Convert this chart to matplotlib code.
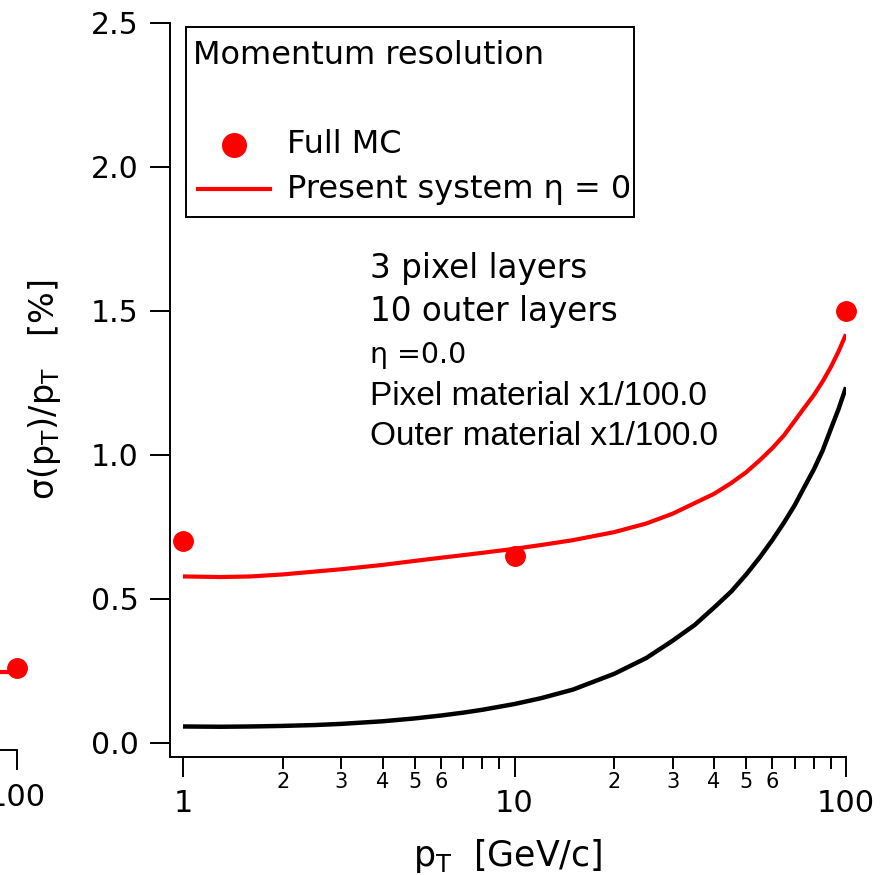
import matplotlib
matplotlib.use("Agg")
import matplotlib.pyplot as plt
from matplotlib.patches import Rectangle
from matplotlib.lines import Line2D

plt.rcParams['font.family'] = ['DejaVu Sans']
plt.rcParams['mathtext.default'] = 'regular'

# Full MC points
pt_mc = [1, 10, 100]
res_mc = [0.70, 0.65, 1.50]

# present system, eta = 0 (red)
pt_red = [1, 1.3, 1.6, 2, 2.5, 3, 4, 5, 6, 7, 8, 10, 12, 15, 20, 25, 30, 35, 40,
          45, 50, 55, 60, 65, 70, 75, 80, 85, 90, 95, 100]
res_red = [0.578, 0.576, 0.578, 0.585, 0.595, 0.603, 0.618, 0.632, 0.643, 0.652,
           0.660, 0.674, 0.687, 0.704, 0.732, 0.762, 0.796, 0.833, 0.865, 0.902,
           0.940, 0.982, 1.024, 1.068, 1.118, 1.165, 1.208, 1.255, 1.305, 1.360, 1.419]

# reduced material (black)
pt_blk = pt_red
res_blk = [0.057, 0.056, 0.057, 0.059, 0.062, 0.066, 0.075, 0.085, 0.095, 0.105,
           0.115, 0.135, 0.155, 0.185, 0.240, 0.295, 0.355, 0.410, 0.470, 0.525,
           0.585, 0.645, 0.705, 0.765, 0.825, 0.890, 0.950, 1.015, 1.090, 1.160, 1.235]

# piece of the neighbouring panel at the left edge
pt_prev = [60, 100]
res_prev = [0.222, 0.222]
pt_prev_mc = [100]
res_prev_mc = [0.236]

major_x = [1, 10, 100]
major_xlabels = ['1', '10', '100']
minor_x = [2, 3, 4, 5, 6, 7, 8, 9, 20, 30, 40, 50, 60, 70, 80, 90]
minor_xlabels = ['2', '3', '4', '5', '6', '', '', '', '2', '3', '4', '5', '6', '', '', '']
y_ticks = [0.0, 0.5, 1.0, 1.5, 2.0, 2.5]

W, H = 888, 875
fig = plt.figure(figsize=(W / 100, H / 100), dpi=100)

def axes_px(left, bottom, width, height):
    return fig.add_axes([left / W, bottom / H, width / W, height / H])

# neighbour fragment
ax0 = axes_px(17 - 676, 125, 676, 734)
ax0.set_facecolor('none')
ax0.set_xscale('log')
ax0.set_xlim(0.9136, 100)
ax0.set_ylim(-0.049, 2.5)
ax0.plot(pt_prev, res_prev, color='red', lw=3, clip_on=False)
ax0.plot(pt_prev_mc, res_prev_mc, 'o', color='red', ms=14, clip_on=False)
for s in ['top', 'right', 'left']:
    ax0.spines[s].set_visible(False)
ax0.spines['bottom'].set_linewidth(1.4)
ax0.set_yticks([])
ax0.set_xticks([100])
ax0.set_xticklabels(['100'])
ax0.xaxis.set_minor_locator(plt.NullLocator())
ax0.tick_params(axis='x', length=14.4, width=1.4, labelsize=22, pad=9)

# main panel
ax = axes_px(170, 118, 676, 734)
ax.set_xscale('log')
ax.set_xlim(0.9136, 100)
ax.set_ylim(-0.049, 2.5)

ax.plot(pt_blk, res_blk, color='black', lw=3.2, solid_capstyle='butt')
ax.plot(pt_red, res_red, color='red', lw=3, solid_capstyle='butt')
ax.plot(pt_mc, res_mc, 'o', color='red', ms=14, clip_on=False, zorder=5)

for s in ['top', 'right']:
    ax.spines[s].set_visible(False)
ax.spines['left'].set_linewidth(1.4)
ax.spines['bottom'].set_linewidth(1.4)

ax.set_xticks(major_x)
ax.set_xticklabels(major_xlabels)
ax.set_xticks(minor_x, minor=True)
ax.set_xticklabels(minor_xlabels, minor=True)
ax.set_yticks(y_ticks)
ax.set_yticklabels([f'{v:.1f}' for v in y_ticks])
ax.tick_params(axis='x', which='major', length=14.4, width=1.4, labelsize=22, pad=9)
ax.tick_params(axis='x', which='minor', length=8.6, width=1.4, labelsize=15, pad=2)
ax.tick_params(axis='y', which='major', length=14.4, width=1.4, labelsize=21.5, pad=8)

ax.set_xlabel(r'p$_T$  [GeV/c]', fontsize=25, labelpad=13)
ax.set_ylabel(r'$\sigma$(p$_T$)/p$_T$   [%]', fontsize=24, labelpad=20)

# legend box drawn by hand (Igor style)
ax.add_patch(Rectangle((0.0237, 0.7357), 0.6627, 0.2589, transform=ax.transAxes,
                       facecolor='white', edgecolor='black', lw=1.4, zorder=6))
ax.text(0.034, 0.9564, 'Momentum resolution', transform=ax.transAxes, fontsize=23,
        ha='left', va='center', zorder=7)
ax.add_line(Line2D([0.0947], [0.8338], marker='o', ms=17, color='red',
                   transform=ax.transAxes, zorder=7))
ax.text(0.1731, 0.8338, 'Full MC', transform=ax.transAxes, fontsize=23,
        ha='left', va='center', zorder=7)
ax.add_line(Line2D([0.0414, 0.1479], [0.7738, 0.7738], color='red', lw=3,
                   transform=ax.transAxes, zorder=7))
ax.text(0.1731, 0.7738, 'Present system η = 0', transform=ax.transAxes, fontsize=23,
        ha='left', va='center', zorder=7)

# configuration text
tx = 0.2959
ax.text(tx, 0.6662, '3 pixel layers', transform=ax.transAxes, fontsize=23.5, va='center')
ax.text(tx, 0.6076, '10 outer layers', transform=ax.transAxes, fontsize=23.5, va='center')
ax.text(tx, 0.5477, 'η =0.0', transform=ax.transAxes, fontsize=20.5, va='center')
ax.text(tx, 0.4905, 'Pixel material x1/100.0', transform=ax.transAxes, fontsize=24,
        va='center', family='Liberation Sans')
ax.text(tx, 0.4360, 'Outer material x1/100.0', transform=ax.transAxes, fontsize=24,
        va='center', family='Liberation Sans')

fig.savefig('out.png', dpi=100)
